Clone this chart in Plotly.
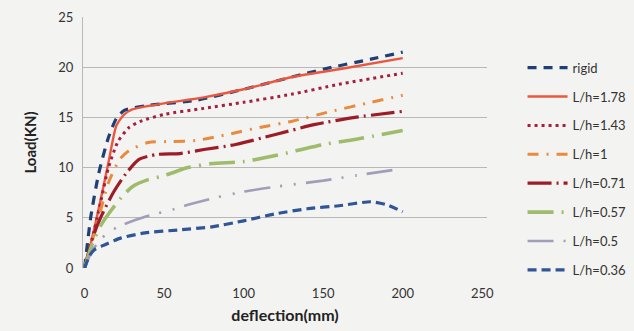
import plotly.graph_objects as go

names = ["rigid", "L/h=1.78", "L/h=1.43", "L/h=1", "L/h=0.71", "L/h=0.57", "L/h=0.5", "L/h=0.36"]

rigid_x = [0, 4, 9, 15, 20, 25, 40, 70, 100, 150, 180, 200]
rigid_y = [0, 5.2, 9.5, 13.0, 14.9, 15.7, 16.2, 16.7, 17.8, 19.8, 20.8, 21.5]

lh178_x = [0, 4, 9, 15, 20, 25, 30, 50, 75, 100, 130, 160, 200]
lh178_y = [0, 2.5, 6.0, 10.5, 14.2, 15.3, 15.8, 16.4, 17.0, 17.8, 19.0, 19.8, 20.9]

lh143_x = [0, 5, 10, 15, 21, 28, 35, 50, 75, 100, 130, 160, 200]
lh143_y = [0, 3.0, 6.5, 10.0, 12.6, 14.0, 14.6, 15.3, 15.9, 16.5, 17.3, 18.3, 19.4]

lh1_x = [0, 8, 15, 22, 28, 40, 55, 70, 90, 110, 130, 155, 180, 200]
lh1_y = [0, 4.5, 8.5, 10.8, 11.7, 12.5, 12.6, 12.7, 13.3, 14.0, 14.6, 15.6, 16.5, 17.2]

lh071_x = [0, 5, 10, 18, 26, 34, 45, 60, 75, 95, 120, 145, 170, 200]
lh071_y = [0, 3.0, 5.0, 7.5, 9.4, 10.8, 11.3, 11.4, 11.8, 12.3, 13.3, 14.3, 15.0, 15.6]

lh057_x = [0, 5, 10, 17, 23, 30, 40, 50, 65, 80, 100, 120, 150, 170, 200]
lh057_y = [0, 2.5, 4.2, 5.8, 7.0, 8.1, 8.8, 9.2, 10.0, 10.4, 10.6, 11.2, 12.3, 12.8, 13.7]

lh05_x = [0, 5, 13, 21, 38, 55, 65, 82, 100, 125, 150, 170, 200]
lh05_y = [0, 1.8, 3.3, 4.1, 5.1, 5.8, 6.3, 7.0, 7.6, 8.2, 8.7, 9.2, 9.9]

lh036_x = [0, 3, 6, 11, 23, 38, 60, 80, 100, 120, 140, 160, 180, 190, 200]
lh036_y = [0, 1.2, 1.8, 2.2, 3.0, 3.5, 3.8, 4.1, 4.7, 5.4, 5.9, 6.2, 6.6, 6.3, 5.6]

x_ticks = [0, 50, 100, 150, 200, 250]
y_ticks = [0, 5, 10, 15, 20, 25]

series = [
    (rigid_x, rigid_y, "#1f3f75", 3.2, "9px,7px"),
    (lh178_x, lh178_y, "#e9573f", 2.4, "solid"),
    (lh143_x, lh143_y, "#a52040", 3.0, "3px,4px"),
    (lh1_x, lh1_y, "#ea8a3e", 3.0, "11px,8px,2px,8px"),
    (lh071_x, lh071_y, "#9e1c27", 3.2, "24px,5px,2px,5px"),
    (lh057_x, lh057_y, "#9fbb6c", 3.6, "26px,8px,2px,8px"),
    (lh05_x, lh05_y, "#a39dba", 2.6, "26px,10px,2px,12px,2px,10px"),
    (lh036_x, lh036_y, "#2f5597", 3.2, "9px,5px"),
]

fig = go.Figure()
for name, (xs, ys, color, w, dash) in zip(names, series):
    fig.add_trace(go.Scatter(
        x=xs, y=ys, mode="lines", name=name, legendgroup=name,
        line=dict(color=color, width=w, dash=dash, shape="spline", smoothing=0.6),
    ))

bg = "#f3f3f1"
fig.update_layout(
    width=634, height=331,
    margin=dict(l=83, r=147, t=17, b=63, autoexpand=False),
    paper_bgcolor=bg, plot_bgcolor=bg,
    font=dict(family="Lato, Open Sans, sans-serif", color="#333333"),
    showlegend=True,
    legend=dict(
        x=1.088, y=0.858, xanchor="left", yanchor="top",
        bgcolor="rgba(0,0,0,0)", font=dict(size=13, color="#333333"),
        itemwidth=40, tracegroupgap=9,
    ),
    xaxis=dict(
        range=[-1, 253], tickvals=x_ticks, showgrid=False, zeroline=False,
        showline=False, ticks="", ticklabelstandoff=16,
        tickfont=dict(size=13, color="#333333", family="Lato"),
        title=dict(text="<b>deflection(mm)</b>", font=dict(size=16, color="#222222"), standoff=9),
    ),
    yaxis=dict(
        range=[0, 25], tickvals=y_ticks, showgrid=True, gridcolor="#b8b8b8", gridwidth=1,
        zeroline=False, showline=True, linecolor="#b8b8b8", ticks="", ticklabelstandoff=6,
        tickfont=dict(size=13, color="#333333", family="Lato"),
        title=dict(text="<b>Load(KN)</b>", font=dict(size=15, color="#222222"), standoff=18),
    ),
)
fig.update_xaxes(tickprefix="<b>", ticksuffix="</b>")
fig.update_yaxes(tickprefix="<b>", ticksuffix="</b>")

fig.write_html("out.html")
